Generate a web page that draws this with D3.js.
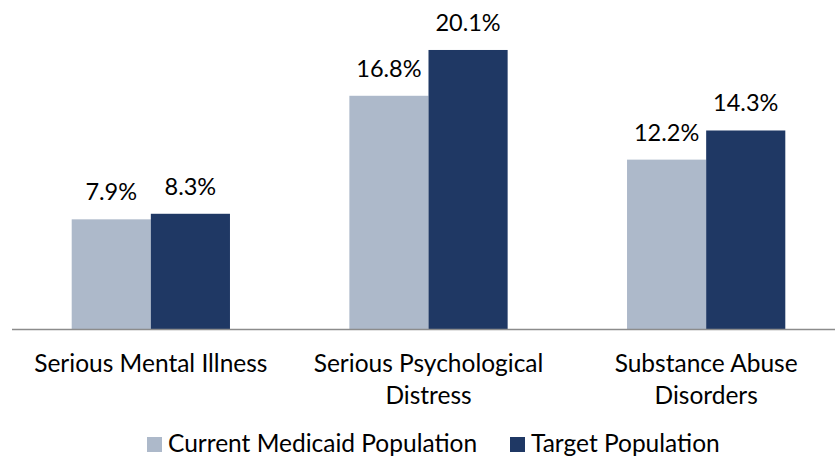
<!DOCTYPE html>
<html>
<head>
<meta charset="utf-8">
<script src="https://cdn.jsdelivr.net/npm/d3@7"></script>
<style>
  body { margin: 0; background: #fff; }
  svg { display: block; }
  text { font-family: Lato, "Liberation Sans", sans-serif; fill: #000; }
</style>
</head>
<body>
<svg id="chart"></svg>
<script>
// chart data
var categories = ["Serious Mental Illness", "Serious Psychological Distress", "Substance Abuse Disorders"];
var categoryLines = [["Serious Mental Illness"], ["Serious Psychological", "Distress"], ["Substance Abuse", "Disorders"]];
var seriesNames = ["Current Medicaid Population", "Target Population"];
var currentValues = [7.9, 16.8, 12.2];
var targetValues = [8.3, 20.1, 14.3];
var colors = ["#adb9ca", "#1f3864"];

var width = 835, height = 460;
var labelSize = 24.5, valueSize = 23.5;

var svg = d3.select('#chart')
	.attr('width', width)
	.attr('height', height);

// scales
var xScale = d3.scaleBand()
	.domain(categories)
	.range([12, 845])
	.paddingInner(0.43)
	.paddingOuter(0.215);
var xInner = d3.scaleBand()
	.domain(seriesNames)
	.range([0, xScale.bandwidth()]);
var yScale = d3.scaleLinear()
	.domain([0, 22])
	.range([329, 23.6]);

// table of bars
var rows = [];
categories.forEach(function(c, i) {
	rows.push({cat: c, series: seriesNames[0], value: currentValues[i], color: colors[0]});
	rows.push({cat: c, series: seriesNames[1], value: targetValues[i], color: colors[1]});
});

// bars
svg.append('g').attr('class', 'data')
	.selectAll('rect').data(rows)
	.enter()
	.append('rect')
	.attr('x', function(d) { return xScale(d.cat) + xInner(d.series); })
	.attr('y', function(d) { return yScale(d.value); })
	.attr('width', xInner.bandwidth())
	.attr('height', function(d) { return yScale(0) - yScale(d.value); })
	.attr('fill', function(d) { return d.color; });

// value labels
svg.append('g').attr('class', 'labels')
	.selectAll('text').data(rows)
	.enter()
	.append('text')
	.attr('x', function(d) { return xScale(d.cat) + xInner(d.series) + xInner.bandwidth() / 2; })
	.attr('y', function(d) { return yScale(d.value) - 19; })
	.attr('text-anchor', 'middle')
	.style('font-size', valueSize + 'px')
	.text(function(d) { return d.value.toFixed(1) + '%'; });

// x axis line
svg.append('line')
	.attr('x1', 12).attr('x2', width)
	.attr('y1', yScale(0) + 0.5).attr('y2', yScale(0) + 0.5)
	.attr('stroke', '#8c8c8c')
	.attr('stroke-width', 1.5);

// category labels
var catText = svg.append('g').attr('class', 'x-labels')
	.selectAll('text').data(categories)
	.enter()
	.append('text')
	.attr('text-anchor', 'middle')
	.style('font-size', labelSize + 'px')
	.attr('transform', function(d) { return 'translate(' + (xScale(d) + xScale.bandwidth() / 2) + ',372)'; });
catText.selectAll('tspan')
	.data(function(d, i) { return categoryLines[i]; })
	.enter()
	.append('tspan')
	.attr('x', 0)
	.attr('y', function(d, i) { return i * 32; })
	.text(function(d) { return d; });

// legend
var legendX = [147, 510];
var legend = svg.append('g').attr('class', 'legend')
	.selectAll('g').data(seriesNames)
	.enter()
	.append('g')
	.attr('transform', function(d, i) { return 'translate(' + legendX[i] + ',437)'; });
legend.append('rect')
	.attr('width', 15).attr('height', 15)
	.attr('fill', function(d, i) { return colors[i]; });
legend.append('text')
	.attr('x', 21).attr('y', 15)
	.style('font-size', labelSize + 'px')
	.text(function(d) { return d; });
</script>
</body>
</html>
